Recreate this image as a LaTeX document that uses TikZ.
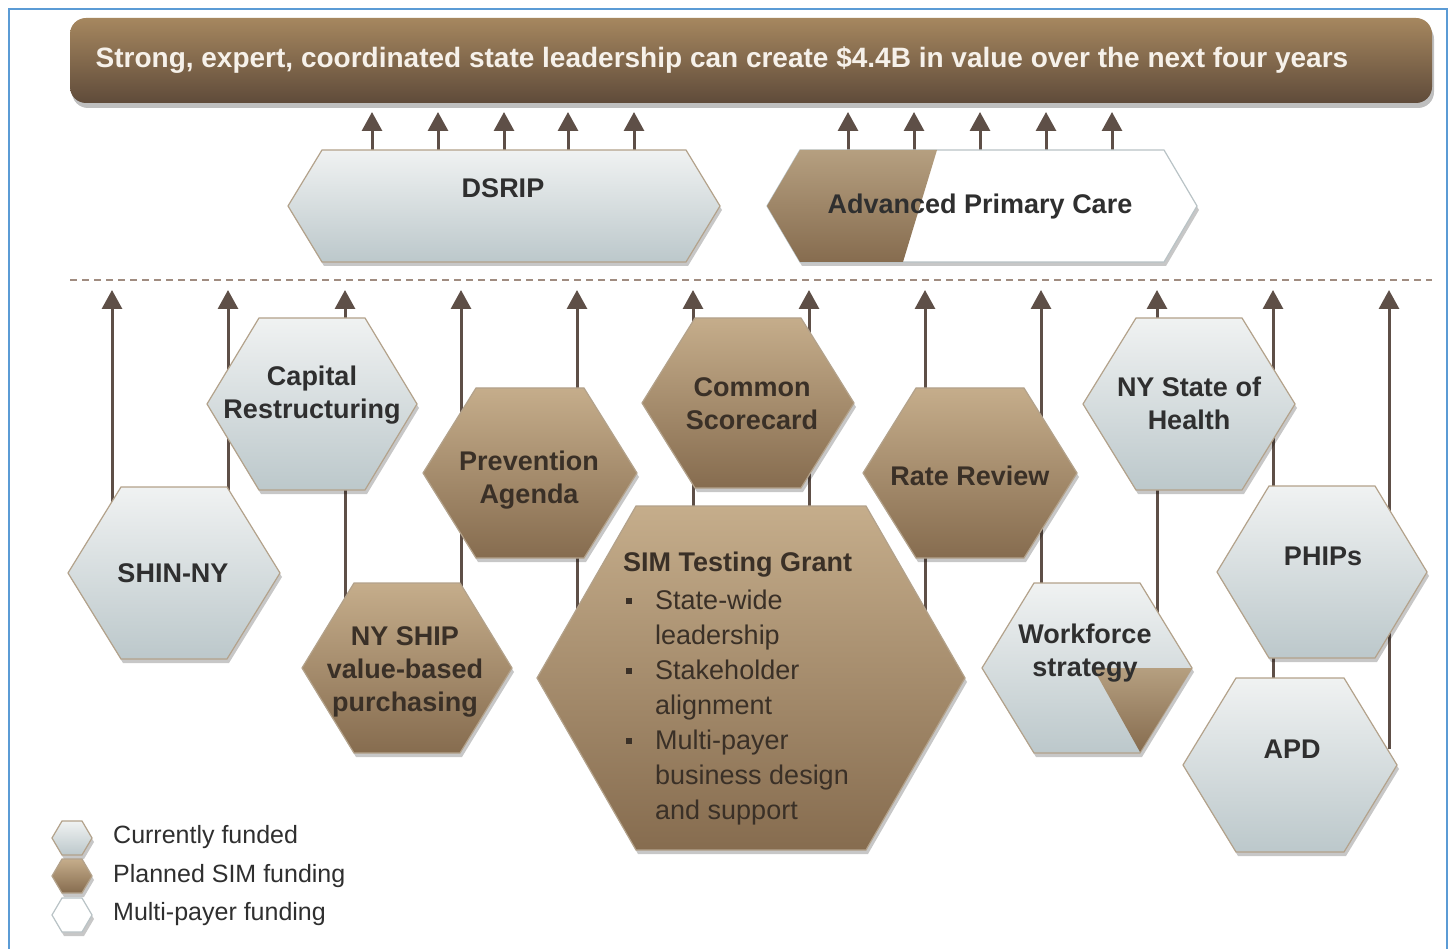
\documentclass[tikz,border=0pt]{standalone}
\usepackage{fontspec}
\setmainfont{Liberation Sans}
\usetikzlibrary{arrows.meta,shadows}
\pgfdeclarelayer{back}
\pgfdeclarelayer{bg}
\pgfsetlayers{back,bg,main}
\definecolor{framec}{HTML}{5B9BD5}
\definecolor{arrowc}{HTML}{5E4F47}
\definecolor{dashc}{HTML}{A08C80}
\definecolor{bantop}{HTML}{A6875F}
\definecolor{banbot}{HTML}{5F4B3A}
\definecolor{greytop}{HTML}{F0F2F2}
\definecolor{greybot}{HTML}{BCC8CB}
\definecolor{browntop}{HTML}{C5AD8B}
\definecolor{brownbot}{HTML}{866C4F}
\definecolor{hexedge}{HTML}{B3A28B}
\definecolor{whiteedge}{HTML}{B9C3C6}
\definecolor{txtc}{HTML}{2F2F2F}
\definecolor{btxtc}{HTML}{3A3027}
\definecolor{bantxt}{HTML}{F6F1EA}
\newcommand\hexshape[5]{({#1-#3},{#2}) -- ({#1-#3+#5},{#2-#4}) -- ({#1+#3-#5},{#2-#4}) -- ({#1+#3},{#2}) -- ({#1+#3-#5},{#2+#4}) -- ({#1-#3+#5},{#2+#4}) -- cycle}
\newcommand\simbul{\makebox[32pt][l]{\hspace*{3pt}\rule[6pt]{6pt}{6pt}}}
\newcommand\simind{\hspace*{32pt}}
\begin{document}
\begin{tikzpicture}[x=1pt,y=-1pt,
  hexshadow/.style={drop shadow={shadow xshift=2pt,shadow yshift=-4pt,opacity=0.22,fill=black}},
  greyhex/.style={hexshadow,draw=hexedge,line width=1.2pt,top color=greytop,bottom color=greybot},
  brownhex/.style={hexshadow,draw=hexedge,line width=1.2pt,top color=browntop,bottom color=brownbot},
  whitehex/.style={hexshadow,draw=whiteedge,line width=1.2pt,fill=white},
  brownpart/.style={top color=browntop!92!black,bottom color=brownbot},
  lbl/.style={font=\fontsize{27}{33}\selectfont\bfseries,text=txtc,align=center,inner sep=0pt},
  blbl/.style={lbl,text=btxtc},
  legtxt/.style={font=\fontsize{25}{30}\selectfont,text=txtc,inner sep=0pt,anchor=west},
  arr/.style={line width=3pt,draw=arrowc,-{Triangle[width=20pt,length=19pt]}},
  banner/.style={rounded corners=16pt,minimum width=1362pt,minimum height=85pt,
    top color=bantop,bottom color=banbot,
    drop shadow={shadow xshift=2pt,shadow yshift=-5pt,opacity=0.25,fill=black},inner sep=0pt},
  bantext/.style={text=bantxt,font=\fontsize{28}{34}\selectfont\bfseries,inner sep=0pt}
]
\begin{pgfonlayer}{back}
\fill[white] (0,0) rectangle (1454,949);
\end{pgfonlayer}
\useasboundingbox (0,0) rectangle (1454,949);
\draw[framec,line width=2pt] (9,9) rectangle (1447,965);

% banner
\node[banner] (banner) at (751,60.5) {};
\node[bantext] (title) at (722,60) {Strong, expert, coordinated state leadership can create \$4.4B in value over the next four years};

% dashed separator
\coordinate (dl) at (70,280);
\coordinate (dr) at (1432,280);
\draw[dashc,line width=1.8pt,dash pattern=on 7pt off 5pt] (dl) -- (dr);

% upper shapes
\path[greyhex] \hexshape{504}{206}{216}{56}{34};
\node[lbl] (dsrip) at (503,188) {DSRIP};
\path[whitehex] \hexshape{982}{206}{215}{56}{33};
\path[brownpart] (767,206) -- (800,150) -- (937,150) -- (903,262) -- (800,262) -- cycle;
\node[lbl] (apc) at (980,207) {Advanced Primary Care};

% lower hexagons
\path[greyhex] \hexshape{174}{573}{106}{86}{53};
\node[lbl] (shin) at (173,573) {SHIN-NY};
\path[greyhex] \hexshape{312}{404}{105}{86}{52};
\node[lbl] (cap) at (312,395) {Capital\\Restructuring};
\path[brownhex] \hexshape{530}{473}{107}{85}{53};
\node[blbl] (prev) at (529,480) {Prevention\\Agenda};
\path[brownhex] \hexshape{407}{668}{105}{85}{52};
\node[blbl] (ship) at (405,672) {NY SHIP\\value-based\\purchasing};
\path[brownhex] \hexshape{748}{403}{106}{85}{53};
\node[blbl] (common) at (752,404) {Common\\Scorecard};
\path[brownhex] \hexshape{751}{678}{214}{172}{99};
\node[anchor=north west,inner sep=0pt,align=left,text=btxtc,font=\fontsize{27}{35}\selectfont] (sim) at (623,552)
  {{\bfseries SIM Testing Grant}\\[3pt]
   \simbul State-wide\\
   \simind leadership\\
   \simbul Stakeholder\\
   \simind alignment\\
   \simbul Multi-payer\\
   \simind business design\\
   \simind and support};
\path[brownhex] \hexshape{970}{473}{107}{85}{53};
\node[blbl] (rate) at (970,476) {Rate Review};
\path[greyhex] \hexshape{1087}{668}{105}{85}{52};
\path[brownpart] (1093,668) -- (1192,668) -- (1140,752) -- cycle;
\node[lbl] (work) at (1085,653) {Workforce\\strategy};
\path[greyhex] \hexshape{1189}{404}{106}{86}{53};
\node[lbl] (nysoh) at (1189,403) {NY State of\\Health};
\path[greyhex] \hexshape{1322}{572}{105}{86}{52};
\node[lbl] (phips) at (1323,556) {PHIPs};
\path[greyhex] \hexshape{1290}{765}{107}{87}{53};
\node[lbl] (apd) at (1292,749) {APD};

% legend
\path[greyhex] \hexshape{72}{838}{20}{17}{10};
\node[legtxt] (leg1) at (113,837) {Currently funded};
\path[brownhex] \hexshape{72}{876}{20}{17}{10};
\node[legtxt] (leg2) at (113,876) {Planned SIM funding};
\path[whitehex] \hexshape{72}{915}{20}{17}{10};
\node[legtxt] (leg3) at (113,914) {Multi-payer funding};

% arrow end points
\coordinate (u1) at (372,112);
\coordinate (u2) at (438,112);
\coordinate (u3) at (504,112);
\coordinate (u4) at (568,112);
\coordinate (u5) at (634,112);
\coordinate (u6) at (848,112);
\coordinate (u7) at (914,112);
\coordinate (u8) at (980,112);
\coordinate (u9) at (1046,112);
\coordinate (u10) at (1112,112);
\coordinate (t1) at (112,290);
\coordinate (t2) at (228,290);
\coordinate (t3) at (345,290);
\coordinate (t4) at (461,290);
\coordinate (t5) at (577,290);
\coordinate (t6) at (693,290);
\coordinate (t7) at (809,290);
\coordinate (t8) at (925,290);
\coordinate (t9) at (1041,290);
\coordinate (t10) at (1157,290);
\coordinate (t11) at (1273,290);
\coordinate (t12) at (1389,290);

\begin{pgfonlayer}{bg}
\draw[arr] (dsrip -| u1) -- (u1);
\draw[arr] (dsrip -| u2) -- (u2);
\draw[arr] (dsrip -| u3) -- (u3);
\draw[arr] (dsrip -| u4) -- (u4);
\draw[arr] (dsrip -| u5) -- (u5);
\draw[arr] (apc -| u6) -- (u6);
\draw[arr] (apc -| u7) -- (u7);
\draw[arr] (apc -| u8) -- (u8);
\draw[arr] (apc -| u9) -- (u9);
\draw[arr] (apc -| u10) -- (u10);
\draw[arr] (shin -| t1) -- (t1);
\draw[arr] (shin -| t2) -- (t2);
\draw[arr] (ship -| t3) -- (t3);
\draw[arr] (ship -| t4) -- (t4);
\draw[arr] (sim.center -| t5) -- (t5);
\draw[arr] (sim.center -| t6) -- (t6);
\draw[arr] (sim.center -| t7) -- (t7);
\draw[arr] (sim.center -| t8) -- (t8);
\draw[arr] (work -| t9) -- (t9);
\draw[arr] (work -| t10) -- (t10);
\draw[arr] (apd -| t11) -- (t11);
\draw[arr] (apd -| t12) -- (t12);
\end{pgfonlayer}
\end{tikzpicture}
\end{document}
